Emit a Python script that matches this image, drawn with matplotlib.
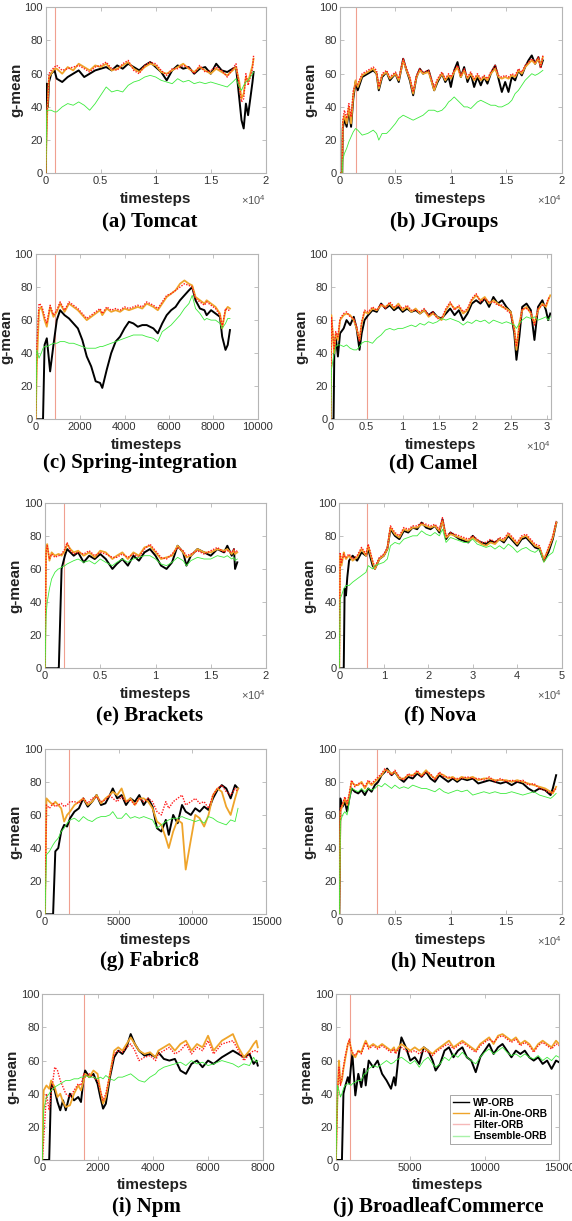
import matplotlib
matplotlib.use("Agg")
import matplotlib.pyplot as plt
from matplotlib.lines import Line2D
from matplotlib.ticker import FixedLocator, FuncFormatter

plt.rcParams['font.family'] = ['Liberation Sans', 'DejaVu Sans']
plt.rcParams['mathtext.default'] = 'regular'

series_names = ["WP-ORB", "All-in-One-ORB", "Filter-ORB", "Ensemble-ORB"]
captions = ["(a) Tomcat", "(b) JGroups", "(c) Spring-integration", "(d) Camel",
            "(e) Brackets", "(f) Nova", "(g) Fabric8", "(h) Neutron",
            "(i) Npm", "(j) BroadleafCommerce"]
vlines = [850, 1400, 870, 5100, 1750, 6300, 1650, 3350, 1500, 950]

# ---------------- (a) Tomcat ----------------
x_a = [0, 100, 200, 300, 500, 800, 1000, 1500, 2000, 2500,
       3000, 3500, 4000, 4500, 5000, 5500, 6000, 6500, 7000, 7500,
       8000, 8500, 9000, 9500, 10000, 10500, 11000, 11500, 12000, 12500,
       13000, 13500, 14000, 14500, 15000, 15500, 16000, 16500, 17000, 17300,
       17600, 17800, 18000, 18200, 18400, 18600, 18800, 18900]
wp_a = [0, 54, 40, 55, 60, 62, 57, 55, 58, 60,
        62, 58, 60, 62, 63, 64, 62, 65, 63, 66,
        64, 62, 65, 67, 64, 61, 56, 62, 65, 63,
        64, 60, 63, 64, 60, 66, 62, 61, 63, 64,
        45, 32, 27, 42, 35, 45, 55, 61]
aio_a = [0, 30, 45, 58, 60, 63, 63, 60, 64, 62,
         66, 64, 62, 65, 64, 66, 62, 63, 65, 67,
         63, 61, 64, 66, 65, 61, 60, 62, 64, 66,
         63, 61, 64, 62, 60, 63, 61, 59, 62, 64,
         55, 45, 48, 58, 55, 60, 65, 69]
fil_a = [0, 35, 45, 60, 62, 64, 65, 62, 63, 64,
         65, 63, 61, 64, 65, 67, 63, 62, 66, 68,
         62, 60, 65, 67, 66, 62, 59, 63, 63, 65,
         64, 60, 65, 61, 62, 64, 62, 58, 63, 66,
         52, 43, 45, 60, 53, 58, 63, 71]
ens_a = [0, 38, 38, 38, 38, 37, 37, 40, 42, 41,
         43, 41, 38, 42, 47, 52, 49, 50, 49, 53,
         55, 56, 58, 59, 58, 56, 55, 54, 57, 55,
         56, 54, 55, 54, 55, 54, 53, 52, 55, 57,
         52, 50, 53, 55, 56, 58, 60, 61]

# ---------------- (b) JGroups ----------------
x_b = [0, 200, 250, 400, 600, 800, 1000, 1200, 1400, 1600,
       2000, 2500, 3000, 3300, 3500, 3800, 4200, 4500, 5000, 5300,
       5700, 6000, 6300, 6600, 6900, 7200, 7500, 8000, 8500, 8800,
       9200, 9500, 9800, 10000, 10300, 10600, 10900, 11200, 11500, 11800,
       12100, 12400, 12700, 13000, 13300, 13600, 14000, 14300, 14600, 14900,
       15200, 15500, 15800, 16100, 16400, 16700, 17000, 17300, 17600, 17900,
       18100, 18300]
wp_b = [0, 0, 27, 33, 28, 38, 28, 45, 55, 50,
        58, 60, 62, 60, 50, 58, 61, 56, 60, 55,
        69, 62, 56, 47, 58, 63, 60, 62, 50, 55,
        60, 55, 58, 52, 62, 67, 58, 64, 55, 60,
        52, 58, 53, 58, 54, 60, 65, 57, 49, 55,
        49, 58, 56, 62, 59, 64, 68, 71, 66, 70,
        64, 68]
aio_b = [0, 0, 30, 35, 30, 40, 30, 47, 56, 52,
         59, 61, 63, 60, 51, 59, 61, 57, 60, 56,
         68, 62, 57, 48, 58, 62, 60, 61, 50, 56,
         60, 56, 59, 57, 61, 64, 58, 62, 57, 60,
         56, 59, 56, 58, 56, 60, 63, 58, 57, 58,
         57, 59, 58, 62, 60, 64, 66, 68, 66, 69,
         65, 70]
fil_b = [0, 0, 32, 38, 33, 42, 34, 50, 53, 54,
         60, 62, 64, 62, 52, 60, 62, 58, 61, 57,
         69, 63, 58, 49, 59, 63, 61, 62, 52, 57,
         61, 57, 60, 58, 62, 65, 59, 63, 58, 61,
         57, 60, 57, 59, 57, 61, 65, 59, 58, 59,
         58, 60, 59, 63, 61, 65, 67, 69, 67, 70,
         63, 71]
ens_b = [0, 0, 8, 12, 15, 19, 22, 25, 27, 26,
         23, 24, 26, 24, 20, 24, 24, 26, 30, 33,
         35, 34, 33, 32, 33, 34, 35, 38, 38, 37,
         38, 40, 43, 44, 46, 44, 42, 40, 40, 39,
         41, 43, 44, 43, 42, 41, 41, 40, 40, 41,
         42, 44, 48, 50, 53, 56, 58, 60, 59, 60,
         61, 62]

# ---------------- (c) Spring-integration ----------------
x_c = [0, 50, 150, 250, 330, 400, 500, 650, 800, 950,
       1100, 1300, 1500, 1700, 1900, 2100, 2300, 2500, 2700, 2900,
       3000, 3200, 3400, 3600, 3800, 4000, 4200, 4400, 4600, 4800,
       5000, 5300, 5500, 5700, 5900, 6100, 6300, 6500, 6700, 6900,
       7050, 7200, 7400, 7600, 7700, 7900, 8100, 8300, 8400, 8550,
       8650, 8750]
wp_c = [0, 0, 0, 0, 0, 45, 49, 29, 45, 60,
        66, 63, 61, 58, 55, 48, 38, 32, 23, 22,
        19, 30, 40, 47, 50, 55, 59, 58, 56, 57,
        57, 55, 52, 58, 63, 66, 68, 72, 75, 78,
        80, 72, 67, 66, 63, 66, 64, 62, 50, 42,
        45, 54]
aio_c = [0, 32, 66, 68, 64, 60, 56, 68, 62, 65,
         70, 65, 70, 68, 66, 63, 60, 62, 64, 66,
         63, 67, 65, 66, 65, 67, 66, 67, 68, 67,
         70, 68, 66, 70, 74, 76, 78, 82, 84, 82,
         81, 74, 72, 70, 72, 70, 68, 64, 55, 66,
         68, 67]
fil_c = [0, 45, 70, 69, 66, 62, 58, 69, 63, 66,
         71, 66, 71, 69, 67, 64, 61, 63, 65, 67,
         64, 68, 66, 67, 66, 68, 67, 68, 69, 68,
         71, 69, 67, 71, 75, 76, 78, 80, 82, 81,
         80, 73, 71, 69, 71, 69, 67, 63, 56, 67,
         66, 66]
ens_c = [0, 42, 37, 40, 43, 44, 44, 45, 46, 46,
         47, 47, 46, 46, 45, 44, 43, 43, 43, 44,
         44, 45, 46, 47, 48, 49, 50, 51, 51, 51,
         50, 49, 47, 53, 55, 57, 60, 63, 67, 70,
         75, 67, 64, 60, 61, 60, 60, 58, 55, 58,
         61, 61]

# ---------------- (d) Camel ----------------
x_d = [0, 100, 400, 500, 700, 1000, 1300, 1800, 2200, 2700, 3200,
       3600, 4000, 4300, 4700, 5200, 5800, 6400, 7000, 7600, 8200,
       8800, 9400, 10000, 10600, 11200, 11800, 12400, 13000, 13600, 14200,
       14800, 15400, 16000, 16600, 17200, 17800, 18400, 19000, 19600, 20200,
       20800, 21400, 22000, 22600, 23200, 23800, 24400, 25000, 25500, 25800,
       26200, 26600, 27200, 27800, 28300, 28800, 29400, 29900, 30200, 30500]
wp_d = [0, 0, 0, 40, 50, 38, 52, 55, 60, 57, 62,
        55, 42, 52, 60, 63, 66, 65, 70, 67, 69,
        66, 68, 65, 67, 65, 66, 64, 66, 63, 65,
        62, 61, 64, 67, 63, 66, 60, 64, 70, 72,
        70, 73, 68, 74, 70, 72, 68, 65, 52, 36,
        50, 68, 70, 66, 48, 68, 72, 66, 60, 64]
aio_d = [0, 63, 45, 40, 52, 48, 60, 63, 64, 63, 60,
         55, 48, 58, 65, 64, 67, 66, 69, 68, 70,
         67, 70, 66, 68, 65, 67, 64, 66, 62, 64,
         62, 60, 66, 70, 67, 68, 64, 66, 72, 75,
         72, 74, 70, 72, 70, 68, 67, 65, 55, 42,
         58, 66, 68, 64, 58, 66, 70, 68, 72, 75]
fil_d = [0, 62, 46, 42, 53, 50, 61, 64, 65, 62, 61,
         56, 47, 59, 66, 65, 68, 66, 70, 67, 71,
         68, 69, 67, 69, 66, 66, 65, 67, 63, 65,
         61, 61, 67, 71, 66, 69, 65, 67, 73, 76,
         71, 73, 71, 71, 69, 69, 66, 64, 54, 44,
         56, 67, 67, 65, 57, 67, 69, 69, 73, 74]
ens_d = [0, 30, 38, 40, 44, 45, 45, 44, 45, 43, 42,
         42, 44, 46, 47, 47, 46, 49, 51, 54, 55,
         54, 55, 55, 56, 57, 56, 58, 57, 59, 58,
         59, 61, 60, 61, 60, 59, 57, 59, 58, 60,
         59, 60, 58, 60, 59, 58, 59, 58, 57, 55,
         58, 60, 62, 61, 62, 60, 61, 62, 60, 62]

# ---------------- (e) Brackets ----------------
x_e = [0, 100, 200, 400, 600, 900, 1200, 1250, 1500, 1800,
       2000, 2300, 2600, 3000, 3500, 4000, 4500, 5000, 5500, 6100,
       6500, 7000, 7500, 8000, 8500, 9000, 9500, 10000, 10500, 11000,
       11500, 12000, 12500, 12800, 13200, 13800, 14400, 15000, 15600, 16200,
       16500, 16900, 17100, 17200, 17400]
wp_e = [0, 0, 0, 0, 0, 0, 0, 0, 60, 68,
        72, 70, 68, 70, 64, 68, 66, 69, 66, 60,
        63, 66, 62, 68, 65, 70, 72, 68, 62, 60,
        64, 74, 70, 62, 68, 72, 70, 68, 72, 70,
        74, 68, 72, 60, 64]
aio_e = [0, 72, 75, 65, 70, 68, 69, 69, 68, 71,
         75, 72, 70, 71, 68, 70, 67, 71, 70, 66,
         68, 70, 66, 70, 68, 73, 74, 70, 66, 67,
         68, 74, 70, 67, 68, 72, 70, 70, 72, 71,
         72, 69, 71, 69, 70]
fil_e = [0, 70, 74, 66, 69, 67, 68, 68, 69, 72,
         76, 71, 69, 70, 69, 71, 68, 70, 69, 67,
         67, 69, 67, 69, 67, 72, 75, 71, 67, 66,
         69, 73, 71, 68, 69, 71, 69, 71, 73, 70,
         71, 70, 72, 70, 71]
ens_e = [0, 32, 40, 48, 54, 58, 60, 60, 61, 62,
         63, 64, 65, 66, 64, 65, 63, 66, 64, 62,
         64, 66, 64, 66, 67, 68, 68, 66, 63, 62,
         64, 67, 65, 62, 65, 67, 66, 66, 68, 67,
         68, 66, 67, 65, 66]

# ---------------- (f) Nova ----------------
x_f = [0, 200, 500, 1000, 1200, 1500, 1800, 2200, 3000, 4000,
       5000, 6000, 6500, 7500, 8000, 9000, 10000, 10800, 11500, 12500,
       13500, 14500, 15500, 16500, 17500, 18500, 19500, 20500, 21500, 22500,
       23200, 24000, 25000, 26000, 27000, 28000, 29000, 30000, 31000, 32000,
       33000, 34000, 35000, 36000, 37000, 38000, 39000, 40000, 41000, 42000,
       43000, 44000, 45000, 46000, 47000, 48000, 48800]
wp_f = [0, 0, 0, 0, 48, 44, 55, 65, 68, 65,
        70, 68, 72, 62, 60, 66, 68, 72, 84, 80,
        78, 83, 82, 85, 84, 88, 85, 84, 86, 82,
        90, 78, 82, 80, 78, 77, 76, 80, 77, 76,
        75, 77, 76, 78, 76, 80, 77, 74, 78, 79,
        76, 73, 72, 65, 70, 78, 88]
aio_f = [0, 68, 62, 70, 68, 66, 67, 68, 65, 67,
         72, 68, 74, 64, 60, 66, 68, 72, 85, 81,
         79, 84, 83, 85, 85, 87, 86, 85, 86, 83,
         89, 79, 81, 80, 79, 78, 77, 79, 77, 75,
         74, 76, 75, 78, 77, 81, 78, 75, 79, 80,
         77, 74, 73, 66, 72, 79, 88]
fil_f = [0, 70, 64, 69, 67, 67, 68, 69, 66, 68,
         73, 69, 75, 65, 61, 67, 69, 73, 86, 82,
         80, 85, 84, 86, 86, 88, 87, 86, 87, 84,
         91, 80, 82, 81, 80, 79, 78, 80, 78, 76,
         76, 78, 76, 79, 78, 82, 79, 76, 80, 81,
         78, 75, 74, 64, 73, 80, 89]
ens_f = [0, 42, 44, 48, 49, 50, 50, 50, 52, 54,
         56, 58, 62, 60, 62, 63, 64, 66, 74, 76,
         75, 78, 79, 80, 80, 83, 81, 80, 82, 80,
         84, 76, 79, 78, 77, 76, 76, 78, 75, 74,
         73, 74, 72, 74, 72, 75, 73, 70, 72, 73,
         71, 70, 72, 64, 68, 70, 77]

# ---------------- (g) Fabric8 ----------------
x_g = [0, 100, 300, 550, 700, 900, 1100, 1300, 1500, 1700,
       2000, 2300, 2600, 2900, 3200, 3500, 3800, 4100, 4400, 4600,
       4900, 5200, 5500, 5800, 6100, 6400, 6700, 7000, 7300, 7600,
       7900, 8200, 8400, 8700, 9000, 9300, 9550, 9900, 10200, 10500,
       10800, 11100, 11400, 11700, 12000, 12300, 12600, 12900, 13100]
wp_g = [0, 0, 0, 0, 38, 40, 50, 54, 53, 58,
        62, 64, 70, 65, 68, 72, 66, 67, 72, 76,
        70, 72, 66, 70, 68, 72, 66, 70, 65, 52,
        50, 57, 48, 60, 55, 66, 62, 60, 64, 62,
        65, 63, 70, 75, 78, 76, 70, 78, 76]
aio_g = [0, 70, 68, 66, 68, 66, 64, 56, 60, 62,
         66, 68, 70, 66, 68, 72, 67, 70, 72, 74,
         72, 76, 68, 70, 66, 70, 70, 68, 64, 56,
         54, 46, 40, 50, 57, 55, 27, 45, 60, 58,
         53, 60, 72, 76, 74, 65, 60, 70, 76]
fil_g = [0, 66, 64, 67, 65, 66, 67, 65, 66, 68,
         68, 67, 70, 67, 70, 71, 68, 69, 72, 70,
         68, 71, 68, 69, 66, 70, 68, 70, 68, 62,
         60, 68, 64, 68, 70, 72, 66, 68, 70, 67,
         68, 64, 72, 76, 78, 74, 72, 76, 74]
ens_g = [0, 36, 38, 42, 44, 46, 50, 52, 55, 57,
         58, 56, 59, 57, 56, 58, 59, 59, 60, 62,
         58, 58, 61, 58, 59, 58, 59, 58, 57, 52,
         54, 56, 57, 58, 58, 59, 58, 57, 56, 57,
         55, 59, 58, 56, 55, 54, 57, 56, 64]

# ---------------- (h) Neutron ----------------
x_h = [0, 100, 300, 500, 700, 900, 1100, 1400, 1700, 2000,
       2300, 2600, 2900, 3200, 3500, 3800, 4100, 4300, 4700, 5000,
       5400, 5800, 6200, 6600, 7000, 7400, 7800, 8200, 8600, 9000,
       9400, 9800, 10200, 10600, 11000, 11500, 12000, 12500, 13000, 13500,
       14000, 14500, 15000, 15500, 16000, 16500, 17000, 17500, 18000, 18500,
       19000, 19200, 19500]
wp_h = [0, 70, 65, 68, 62, 70, 76, 74, 73, 75,
        72, 76, 74, 78, 80, 84, 86, 88, 84, 86,
        82, 80, 83, 82, 85, 83, 86, 82, 80, 84,
        82, 80, 82, 80, 82, 81, 82, 79, 80, 81,
        80, 79, 80, 78, 80, 79, 76, 74, 76, 75,
        72, 76, 84]
aio_h = [0, 62, 66, 70, 66, 72, 80, 78, 78, 80,
         76, 80, 78, 80, 82, 84, 87, 87, 85, 86,
         82, 82, 84, 84, 86, 84, 87, 84, 82, 85,
         84, 82, 83, 81, 83, 82, 83, 81, 82, 82,
         81, 81, 81, 80, 81, 80, 79, 78, 77, 76,
         74, 73, 77]
fil_h = [0, 64, 67, 71, 67, 73, 81, 77, 79, 79,
         77, 81, 79, 81, 83, 85, 88, 86, 84, 87,
         83, 81, 85, 83, 87, 83, 86, 85, 81, 86,
         83, 83, 82, 82, 82, 83, 82, 82, 81, 83,
         80, 82, 80, 81, 80, 81, 78, 79, 76, 75,
         73, 74, 76]
ens_h = [0, 56, 60, 62, 60, 68, 76, 75, 74, 76,
         74, 76, 75, 76, 78, 77, 79, 78, 76, 78,
         76, 77, 76, 78, 77, 76, 76, 75, 74, 76,
         74, 73, 74, 75, 74, 75, 72, 73, 74, 73,
         74, 73, 73, 74, 73, 72, 73, 74, 72, 71,
         70, 71, 73]

# ---------------- (i) Npm ----------------
x_i = [0, 50, 150, 250, 320, 450, 550, 650, 750, 850,
       1000, 1150, 1300, 1400, 1500, 1550, 1700, 1850, 2000, 2100,
       2200, 2300, 2450, 2600, 2750, 2900, 3050, 3200, 3350, 3500,
       3700, 3900, 4100, 4200, 4400, 4600, 4800, 5000, 5200, 5400,
       5600, 5800, 6000, 6200, 6500, 6900, 7100, 7300, 7500, 7650,
       7750, 7800]
wp_i = [0, 0, 0, 0, 46, 42, 35, 30, 36, 30,
        40, 36, 38, 35, 50, 54, 50, 52, 46, 38,
        31, 34, 50, 62, 66, 64, 68, 76, 70, 66,
        63, 64, 62, 65, 61, 60, 61, 54, 52, 58,
        60, 56, 60, 58, 62, 66, 64, 62, 64, 58,
        60, 57]
aio_i = [0, 42, 45, 43, 48, 44, 38, 40, 35, 32,
         33, 40, 45, 42, 48, 52, 50, 54, 52, 42,
         34, 38, 52, 66, 68, 66, 70, 74, 70, 66,
         64, 65, 62, 66, 68, 70, 66, 70, 72, 66,
         70, 68, 75, 66, 72, 76, 68, 62, 66, 70,
         72, 68]
fil_i = [0, 12, 40, 30, 40, 56, 54, 48, 44, 40,
         38, 42, 46, 45, 52, 50, 52, 50, 48, 42,
         36, 40, 52, 64, 66, 65, 68, 70, 66, 60,
         62, 63, 60, 64, 66, 68, 64, 66, 70, 64,
         68, 66, 72, 64, 70, 72, 66, 60, 64, 66,
         66, 65]
ens_i = [0, 30, 38, 40, 42, 44, 45, 46, 47, 48,
         48, 49, 49, 50, 50, 51, 50, 50, 49, 50,
         49, 51, 49, 48, 50, 50, 51, 52, 50, 48,
         47, 50, 52, 54, 56, 57, 58, 59, 57, 60,
         58, 59, 57, 58, 60, 58, 56, 58, 57, 62,
         59, 60]

# ---------------- (j) BroadleafCommerce ----------------
x_j = [0, 100, 200, 300, 400, 500, 600, 800, 900, 1000,
       1100, 1300, 1500, 1700, 1900, 2000, 2200, 2500, 2800, 3100,
       3400, 3700, 3900, 4000, 4200, 4400, 4700, 5000, 5300, 5600,
       5900, 6200, 6500, 6700, 7000, 7300, 7600, 7900, 8200, 8500,
       8800, 9100, 9400, 9700, 10000, 10300, 10600, 10900, 11200, 11500,
       11800, 12100, 12400, 12700, 13000, 13300, 13600, 13900, 14200, 14500,
       14800, 15000]
wp_j = [0, 0, 0, 0, 0, 40, 44, 50, 46, 56,
        64, 39, 52, 44, 55, 45, 60, 56, 60, 52,
        48, 43, 50, 45, 62, 74, 68, 60, 62, 58,
        68, 66, 60, 54, 58, 66, 68, 62, 66, 68,
        62, 60, 53, 62, 66, 70, 64, 68, 70, 66,
        62, 66, 64, 66, 62, 60, 62, 58, 60, 55,
        60, 59]
aio_j = [0, 40, 60, 46, 48, 55, 60, 70, 72, 68,
         64, 62, 66, 65, 70, 72, 68, 70, 68, 70,
         68, 66, 68, 65, 68, 70, 68, 66, 68, 66,
         68, 66, 64, 66, 68, 70, 72, 68, 70, 72,
         70, 68, 66, 70, 72, 74, 70, 75, 76, 74,
         72, 74, 70, 72, 70, 66, 70, 72, 70, 68,
         72, 70]
fil_j = [0, 38, 56, 45, 50, 56, 62, 70, 73, 67,
         65, 63, 66, 64, 69, 71, 67, 69, 67, 69,
         67, 65, 67, 64, 67, 68, 66, 65, 66, 64,
         66, 65, 63, 65, 67, 69, 70, 67, 69, 71,
         69, 67, 65, 69, 71, 73, 71, 74, 75, 73,
         71, 73, 69, 71, 69, 65, 69, 71, 69, 67,
         70, 69]
ens_j = [0, 45, 42, 38, 40, 43, 45, 46, 46, 45,
         46, 47, 48, 48, 52, 52, 55, 57, 56, 58,
         60, 58, 59, 60, 61, 62, 60, 58, 60, 56,
         60, 62, 58, 56, 58, 62, 60, 64, 62, 65,
         62, 60, 58, 62, 65, 67, 64, 66, 68, 65,
         63, 64, 62, 64, 62, 61, 63, 60, 62, 60,
         63, 62]

panels = [
    (x_a, wp_a, aio_a, fil_a, ens_a),
    (x_b, wp_b, aio_b, fil_b, ens_b),
    (x_c, wp_c, aio_c, fil_c, ens_c),
    (x_d, wp_d, aio_d, fil_d, ens_d),
    (x_e, wp_e, aio_e, fil_e, ens_e),
    (x_f, wp_f, aio_f, fil_f, ens_f),
    (x_g, wp_g, aio_g, fil_g, ens_g),
    (x_h, wp_h, aio_h, fil_h, ens_h),
    (x_i, wp_i, aio_i, fil_i, ens_i),
    (x_j, wp_j, aio_j, fil_j, ens_j),
]

# layout (pixels): left, right, top, bottom
W, H = 572, 1221
boxes = [
    (45.7, 265.7, 7.3, 173.3), (340, 561.7, 7.3, 173.3),
    (35.7, 257.7, 254, 419.3), (330.7, 551, 254, 419.3),
    (45, 266, 502.7, 668.3), (339.3, 561.7, 502.7, 668.3),
    (45, 266, 748.7, 914.3), (339.3, 561.7, 748.7, 914.3),
    (42.3, 263.3, 994.3, 1160), (336, 559, 994.3, 1160),
]
xlims = [20000, 20000, 10000, 30600, 20000, 50000, 15000, 20000, 8000, 15000]
xsteps = [5000, 5000, 2000, 5000, 5000, 10000, 5000, 5000, 2000, 5000]
sci = [True, True, False, True, True, True, False, True, False, False]
cap_pos = [(150, 222), (444, 222), (140, 463), (433, 463), (150, 715),
           (440, 715), (150, 961), (443, 961), (146, 1207), (438, 1207)]

c_wp, c_aio, c_fil, c_ens = 'black', '#EFA42A', '#FF1A1A', '#3CEB3C'
c_vline = '#F0A090'
frame = '#B5B5B5'
tickc = '#333333'

fig = plt.figure(figsize=(W / 100, H / 100), dpi=100)

for k, (xs, wp, aio, fil, ens) in enumerate(panels):
    l, r, t, b = boxes[k]
    ax = fig.add_axes([l / W, 1 - b / H, (r - l) / W, (b - t) / H])
    ax.plot(xs, wp, color=c_wp, lw=1.4, zorder=3)
    ax.plot(xs, aio, color=c_aio, lw=1.3, zorder=4)
    ax.plot(xs, fil, color=c_fil, lw=1.0, ls=(0, (1, 1)), zorder=5)
    ax.plot(xs, ens, color=c_ens, lw=0.6, zorder=6)
    ax.axvline(vlines[k], color=c_vline, lw=0.8, zorder=2)
    ax.set_xlim(0, xlims[k])
    ax.set_ylim(0, 100)
    ticks = list(range(0, int(xlims[k]) + 1, xsteps[k]))
    ax.xaxis.set_major_locator(FixedLocator(ticks))
    ax.yaxis.set_major_locator(FixedLocator([0, 20, 40, 60, 80, 100]))
    if sci[k]:
        ax.xaxis.set_major_formatter(FuncFormatter(lambda v, p: f"{v/1e4:g}"))
        ax.text(1.0, -0.16, r'$\times 10^{4}$', transform=ax.transAxes,
                ha='right', va='center', fontsize=8, color='#555555')
    else:
        ax.xaxis.set_major_formatter(FuncFormatter(lambda v, p: f"{v:g}"))
    ax.tick_params(direction='in', length=3, width=0.6, colors=frame,
                   labelcolor=tickc, labelsize=8, top=True, right=True, pad=2)
    for s in ax.spines.values():
        s.set_color(frame)
        s.set_linewidth(0.8)
    ax.set_xlabel('timesteps', fontsize=11, fontweight='bold', labelpad=4, color='#222222')
    ax.set_ylabel('g-mean', fontsize=11, fontweight='bold', labelpad=1, color='#222222')
    cx, cy = cap_pos[k]
    fig.text(cx / W, 1 - cy / H, captions[k], ha='center', va='center',
             fontsize=15, fontweight='bold', family='Liberation Serif')
    if k == 9:
        handles = [Line2D([], [], color='black', lw=1.0),
                   Line2D([], [], color=c_aio, lw=1.0),
                   Line2D([], [], color='#F6B8B8', lw=1.0),
                   Line2D([], [], color='#A8F2A8', lw=1.0)]
        leg = ax.legend(handles, series_names, loc='lower right',
                        bbox_to_anchor=(0.962, 0.095),
                        prop={'weight': 'bold', 'size': 7.3},
                        handlelength=1.6, handletextpad=0.4, borderpad=0.3,
                        labelspacing=0.12, fancybox=False, framealpha=1,
                        borderaxespad=0)
        leg.get_frame().set_edgecolor('#999999')
        leg.get_frame().set_linewidth(0.6)

fig.savefig('out.png', dpi=100)
